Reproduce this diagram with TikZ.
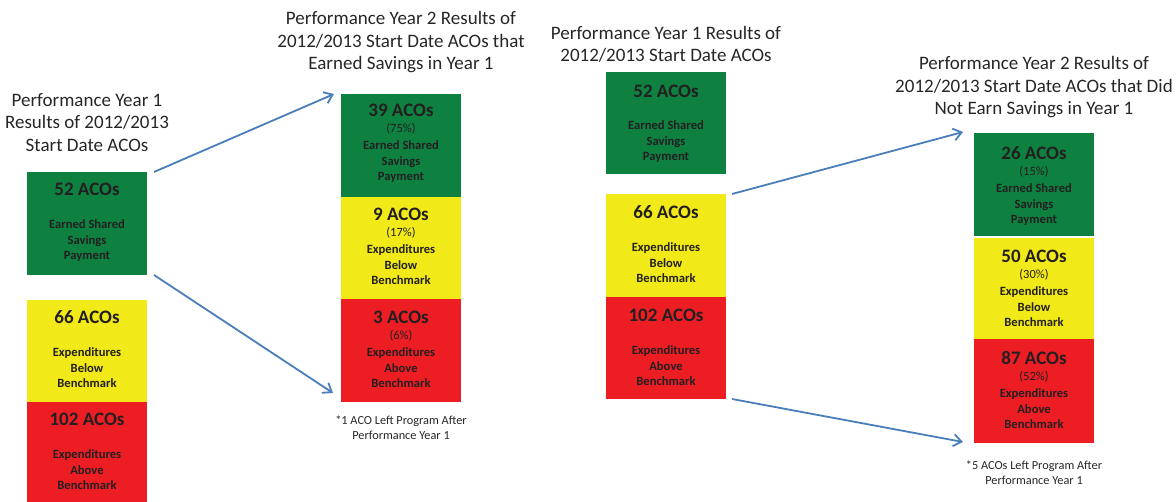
\documentclass[tikz,border=0pt]{standalone}
\usepackage{fontspec}
\setmainfont{Carlito}
\usetikzlibrary{arrows.meta,calc}
\definecolor{accgreen}{HTML}{0E8040}
\definecolor{accyellow}{HTML}{F2EA18}
\definecolor{accred}{HTML}{ED1D24}
\definecolor{txt}{HTML}{231F20}
\definecolor{ttl}{HTML}{262626}
\definecolor{arrowblue}{HTML}{4A7EBB}
\tikzset{
  x=1pt, y=-1pt,
  box/.style={minimum width=120pt, minimum height=#1, inner sep=0pt, outer sep=0pt, anchor=north west},
  hdr/.style={font=\bfseries\fontsize{19}{22}\selectfont, anchor=base, inner sep=0pt, text=txt},
  pct/.style={font=\fontsize{12.5}{15}\selectfont, anchor=base, inner sep=0pt, text=txt},
  body/.style={font=\bfseries\fontsize{12.6}{15.5}\selectfont, align=center, anchor=north, inner sep=0pt, text=txt},
  ttlstyle/.style={font=\fontsize{19}{22.5}\selectfont, align=center, inner sep=0pt, text=ttl},
  foot/.style={font=\fontsize{12.3}{14.8}\selectfont, align=center, inner sep=0pt, text=ttl},
  conn/.style={draw=arrowblue, line width=1.8pt, -{Straight Barb[length=8pt,width=12pt]}},
}
\begin{document}
\begin{tikzpicture}
\useasboundingbox (0,0) rectangle (1176,502);
% titles
\node[ttlstyle] (T1) at (87,122.5) {Performance Year 1\\Results of 2012/2013\\Start Date ACOs};
\node[ttlstyle] (T2) at (401,42.5) {Performance Year 2 Results of\\2012/2013 Start Date ACOs that\\Earned Savings in Year 1};
\node[ttlstyle] (T3) at (666,44.5) {Performance Year 1 Results of\\2012/2013 Start Date ACOs};
\node[ttlstyle] (T4) at (1034,87.5) {Performance Year 2 Results of\\2012/2013 Start Date ACOs that Did\\Not Earn Savings in Year 1};
% column 1
\node[box=103pt, fill=accgreen] (G1) at (27,172) {};
\node[box=102pt, fill=accyellow] (Y1) at (27,300) {};
\node[box=100pt, fill=accred] (R1) at (27,402) {};
\node[hdr] (G1h) at ($(G1.north)+(0,24)$) {52 ACOs};
\node[body] (G1b) at ($(G1.north)+(0,47.5)$) {Earned Shared\\Savings\\Payment};
\node[hdr] (Y1h) at ($(Y1.north)+(0,24)$) {66 ACOs};
\node[body] (Y1b) at ($(Y1.north)+(0,47.5)$) {Expenditures\\Below\\Benchmark};
\node[hdr] (R1h) at ($(R1.north)+(0,24)$) {102 ACOs};
\node[body] (R1b) at ($(R1.north)+(0,47.5)$) {Expenditures\\Above\\Benchmark};
% column 2
\node[box=103pt, fill=accgreen] (G2) at (341,94) {};
\node[box=102pt, fill=accyellow] (Y2) at (341,197) {};
\node[box=103pt, fill=accred] (R2) at (341,299) {};
\node[hdr] (G2h) at ($(G2.north)+(0,23)$) {39 ACOs};
\node[pct] (G2p) at ($(G2.north)+(0,38.5)$) {(75\%)};
\node[body] (G2b) at ($(G2.north)+(0,46.5)$) {Earned Shared\\Savings\\Payment};
\node[hdr] (Y2h) at ($(Y2.north)+(0,24)$) {9 ACOs};
\node[pct] (Y2p) at ($(Y2.north)+(0,39.5)$) {(17\%)};
\node[body] (Y2b) at ($(Y2.north)+(0,47.5)$) {Expenditures\\Below\\Benchmark};
\node[hdr] (R2h) at ($(R2.north)+(0,25)$) {3 ACOs};
\node[pct] (R2p) at ($(R2.north)+(0,40.5)$) {(6\%)};
\node[body] (R2b) at ($(R2.north)+(0,48.5)$) {Expenditures\\Above\\Benchmark};
\node[foot] (F2) at (401,428) {*1 ACO Left Program After\\Performance Year 1};
% column 3
\node[box=102pt, fill=accgreen] (G3) at (606,72) {};
\node[box=103pt, fill=accyellow] (Y3) at (606,194) {};
\node[box=102pt, fill=accred] (R3) at (606,297) {};
\node[hdr] (G3h) at ($(G3.north)+(0,26)$) {52 ACOs};
\node[body] (G3b) at ($(G3.north)+(0,48.5)$) {Earned Shared\\Savings\\Payment};
\node[hdr] (Y3h) at ($(Y3.north)+(0,25)$) {66 ACOs};
\node[body] (Y3b) at ($(Y3.north)+(0,48.5)$) {Expenditures\\Below\\Benchmark};
\node[hdr] (R3h) at ($(R3.north)+(0,25)$) {102 ACOs};
\node[body] (R3b) at ($(R3.north)+(0,48.5)$) {Expenditures\\Above\\Benchmark};
% column 4
\node[box=103pt, fill=accgreen] (G4) at (974,133) {};
\node[box=101pt, fill=accyellow] (Y4) at (974,238) {};
\node[box=104pt, fill=accred] (R4) at (974,339) {};
\node[hdr] (G4h) at ($(G4.north)+(0,27)$) {26 ACOs};
\node[pct] (G4p) at ($(G4.north)+(0,43)$) {(15\%)};
\node[body] (G4b) at ($(G4.north)+(0,50.5)$) {Earned Shared\\Savings\\Payment};
\node[hdr] (Y4h) at ($(Y4.north)+(0,25)$) {50 ACOs};
\node[pct] (Y4p) at ($(Y4.north)+(0,41)$) {(30\%)};
\node[body] (Y4b) at ($(Y4.north)+(0,48.5)$) {Expenditures\\Below\\Benchmark};
\node[hdr] (R4h) at ($(R4.north)+(0,26)$) {87 ACOs};
\node[pct] (R4p) at ($(R4.north)+(0,42)$) {(52\%)};
\node[body] (R4b) at ($(R4.north)+(0,49.5)$) {Expenditures\\Above\\Benchmark};
\node[foot] (F4) at (1034,473) {*5 ACOs Left Program After\\Performance Year 1};
% connectors
\draw[conn] ($(G1.north east)+(7,0)$) -- ($(G2.north west)+(-7,0)$);
\draw[conn] ($(G1.south east)+(7,0)$) -- ($(R2.south west)+(-8,-9)$);
\draw[conn] ($(Y3.north east)+(6,0)$) -- ($(G4.north west)+(-11,-1)$);
\draw[conn] ($(R3.south east)+(6,0)$) -- ($(R4.south west)+(-11,-1)$);
\end{tikzpicture}
\end{document}
